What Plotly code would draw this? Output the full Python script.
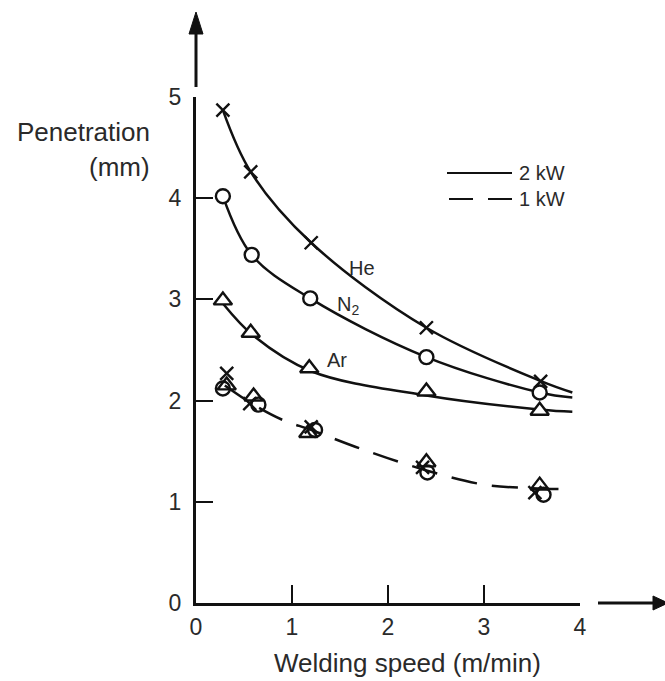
import plotly.graph_objects as go

# ---------------- data ----------------
# 2 kW measured points
he_2kw_x = [0.28, 0.57, 1.20, 2.40, 3.59]
he_2kw_y = [4.87, 4.26, 3.56, 2.72, 2.19]
n2_2kw_x = [0.28, 0.58, 1.19, 2.40, 3.58]
n2_2kw_y = [4.02, 3.44, 3.01, 2.43, 2.08]
ar_2kw_x = [0.28, 0.57, 1.18, 2.40, 3.58]
ar_2kw_y = [2.99, 2.67, 2.32, 2.09, 1.90]

# 1 kW measured points
he_1kw_x = [0.32, 0.56, 1.20, 2.36, 3.53]
he_1kw_y = [2.27, 1.97, 1.74, 1.34, 1.09]
n2_1kw_x = [0.28, 0.65, 1.24, 2.41, 3.62]
n2_1kw_y = [2.12, 1.96, 1.71, 1.29, 1.07]
ar_1kw_x = [0.32, 0.60, 1.17, 2.40, 3.58]
ar_1kw_y = [2.15, 2.04, 1.68, 1.39, 1.16]

# fitted curves
he_curve_x = [0.28, 0.57, 1.20, 2.40, 3.60, 3.92]
he_curve_y = [4.87, 4.26, 3.56, 2.72, 2.19, 2.08]
n2_curve_x = [0.28, 0.58, 1.19, 2.40, 3.58, 3.92]
n2_curve_y = [4.02, 3.44, 3.01, 2.43, 2.08, 2.03]
ar_curve_x = [0.28, 0.60, 1.20, 2.40, 3.60, 3.92]
ar_curve_y = [2.96, 2.64, 2.29, 2.05, 1.91, 1.89]
kw1_curve_x = [0.30, 0.60, 0.90, 1.20, 1.70, 2.40, 3.00, 3.50, 3.85]
kw1_curve_y = [2.15, 1.96, 1.81, 1.71, 1.53, 1.31, 1.17, 1.135, 1.125]

x_ticks = [0, 1, 2, 3, 4]
y_ticks = [0, 1, 2, 3, 4, 5]

FONT = "Liberation Sans, Arial, sans-serif"
TXT = "#2a2a2a"
INK = "#111111"

fig = go.Figure()

# curves
for cx, cy in [(he_curve_x, he_curve_y), (n2_curve_x, n2_curve_y), (ar_curve_x, ar_curve_y)]:
    fig.add_trace(go.Scatter(x=cx, y=cy, mode="lines", line=dict(color=INK, width=2.5, shape="spline"),
                             showlegend=False, hoverinfo="skip"))
fig.add_trace(go.Scatter(x=kw1_curve_x, y=kw1_curve_y, mode="lines",
                         line=dict(color=INK, width=2.5, shape="spline", dash="26px,15px"),
                         showlegend=False, hoverinfo="skip"))

# 2 kW markers
fig.add_trace(go.Scatter(x=he_2kw_x, y=he_2kw_y, mode="markers",
                         marker=dict(symbol="x-thin", size=13, line=dict(color=INK, width=2.4)),
                         showlegend=False))
fig.add_trace(go.Scatter(x=n2_2kw_x, y=n2_2kw_y, mode="markers",
                         marker=dict(symbol="circle", size=14, color="white", line=dict(color=INK, width=2.4)),
                         showlegend=False))
fig.add_trace(go.Scatter(x=ar_2kw_x, y=ar_2kw_y, mode="markers",
                         marker=dict(symbol="triangle-up", size=16, color="white", line=dict(color=INK, width=2.4)),
                         showlegend=False))

# 1 kW markers (open, overlapping)
fig.add_trace(go.Scatter(x=ar_1kw_x, y=ar_1kw_y, mode="markers",
                         marker=dict(symbol="triangle-up-open", size=16, color=INK, line=dict(color=INK, width=2.4)),
                         showlegend=False))
fig.add_trace(go.Scatter(x=n2_1kw_x, y=n2_1kw_y, mode="markers",
                         marker=dict(symbol="circle-open", size=14, color=INK, line=dict(color=INK, width=2.4)),
                         showlegend=False))
fig.add_trace(go.Scatter(x=he_1kw_x, y=he_1kw_y, mode="markers",
                         marker=dict(symbol="x-thin", size=13, line=dict(color=INK, width=2.4)),
                         showlegend=False))

# gas labels
fig.add_annotation(x=1.73, y=3.31, text="He", showarrow=False, font=dict(family=FONT, size=20, color=TXT))
fig.add_annotation(x=1.58, y=2.94, text="N<sub>2</sub>", showarrow=False, font=dict(family=FONT, size=20, color=TXT))
fig.add_annotation(x=1.47, y=2.40, text="Ar", showarrow=False, font=dict(family=FONT, size=20, color=TXT))

# axis titles
fig.add_annotation(xref="paper", yref="paper", x=0, y=1, xshift=-44, yshift=-(132 - 97),
                   text="Penetration", showarrow=False, xanchor="right", yanchor="middle",
                   font=dict(family=FONT, size=26, color=TXT))
fig.add_annotation(xref="paper", yref="paper", x=0, y=1, xshift=-44, yshift=-(167 - 97),
                   text="(mm)", showarrow=False, xanchor="right", yanchor="middle",
                   font=dict(family=FONT, size=26, color=TXT))
fig.add_annotation(xref="paper", yref="paper", x=(407 - 196) / 384, y=0, yshift=-(663 - 603),
                   text="Welding speed (m/min)", showarrow=False, xanchor="center", yanchor="middle",
                   font=dict(family=FONT, size=26, color=TXT))

# legend (drawn)
def px(xp):
    return (xp - 196) / 384

def py(yp):
    return (603 - yp) / 506

fig.add_shape(type="line", xref="paper", yref="paper", x0=px(447), x1=px(512), y0=py(173), y1=py(173),
              line=dict(color=INK, width=2))
fig.add_shape(type="line", xref="paper", yref="paper", x0=px(449), x1=px(512), y0=py(199), y1=py(199),
              line=dict(color=INK, width=2, dash="24px,15px"))
fig.add_annotation(xref="paper", yref="paper", x=px(517), y=py(173), text="2 kW", showarrow=False,
                   xanchor="left", yanchor="middle", font=dict(family=FONT, size=20, color=TXT))
fig.add_annotation(xref="paper", yref="paper", x=px(517), y=py(199), text="1 kW", showarrow=False,
                   xanchor="left", yanchor="middle", font=dict(family=FONT, size=20, color=TXT))

# axis arrows
fig.add_shape(type="line", xref="paper", yref="paper", x0=0, x1=0, y0=py(87), y1=py(32),
              line=dict(color=INK, width=3))
fig.add_shape(type="path", xref="paper", yref="paper",
              path=f"M {px(189)} {py(34)} L {px(196)} {py(12)} L {px(203)} {py(34)} Z",
              fillcolor=INK, line=dict(color=INK, width=1))
fig.add_shape(type="line", xref="paper", yref="paper", x0=px(598), x1=px(655), y0=0, y1=0,
              line=dict(color=INK, width=3))
fig.add_shape(type="path", xref="paper", yref="paper",
              path=f"M {px(653)} {py(596)} L {px(668)} {py(603)} L {px(653)} {py(610)} Z",
              fillcolor=INK, line=dict(color=INK, width=1))

fig.update_xaxes(range=[0, 4], tickvals=x_ticks, ticktext=[str(v) for v in x_ticks],
                 showline=True, linecolor=INK, linewidth=3, ticks="inside", ticklen=18, tickwidth=1.5,
                 tickcolor=INK, showgrid=False, zeroline=False, ticklabelstandoff=1,
                 tickfont=dict(family=FONT, size=23, color=TXT), fixedrange=True)
fig.update_yaxes(range=[0, 5], tickvals=y_ticks, ticktext=[str(v) for v in y_ticks],
                 showline=True, linecolor=INK, linewidth=3, ticks="inside", ticklen=17, tickwidth=1.5,
                 tickcolor=INK, showgrid=False, zeroline=False, ticklabelstandoff=7,
                 tickfont=dict(family=FONT, size=23, color=TXT), fixedrange=True)

fig.update_layout(width=665, height=681, margin=dict(l=196, r=85, t=97, b=78),
                  plot_bgcolor="white", paper_bgcolor="white", showlegend=False)

fig.write_html("out.html")
